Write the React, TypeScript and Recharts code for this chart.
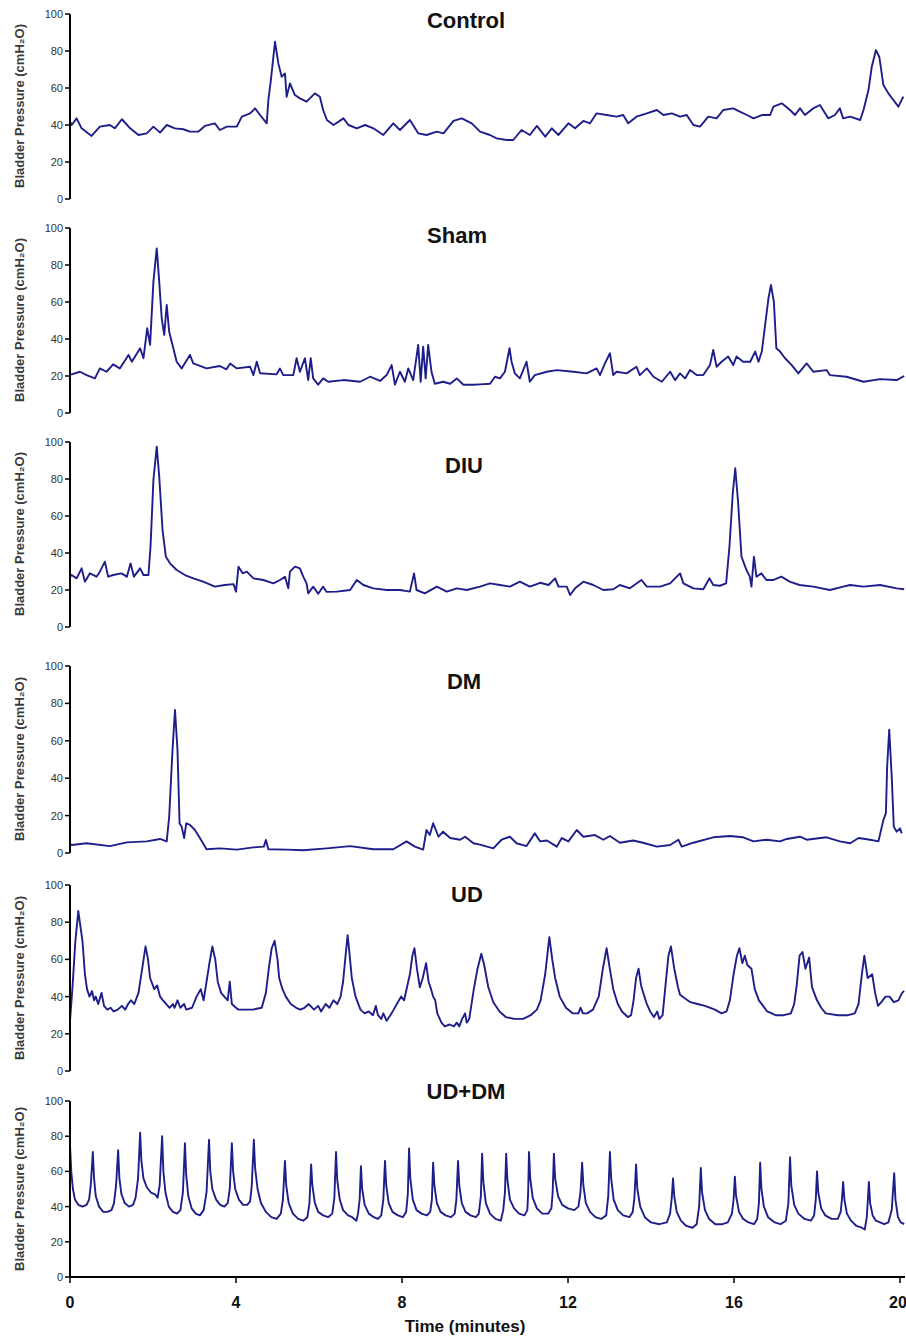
import React from 'react';
import { LineChart, Line, XAxis, YAxis } from 'recharts';

type Pt = [number, number]; // [minutes, cmH2O]

const timeTicks = [0, 4, 8, 12, 16, 20];
const pressureTicks = [0, 20, 40, 60, 80, 100];

const control: Pt[] = [
  [0, 42], [0.04, 40], [0.16, 43.6], [0.28, 38.2], [0.52, 34.1], [0.72, 39.1], [0.96, 40], [1.08, 38.2],
  [1.25, 43.1], [1.45, 38.2], [1.65, 34.6], [1.85, 35.5], [2.01, 39.1], [2.17, 35.9], [2.33, 40], [2.53, 38.2],
  [2.73, 37.7], [2.89, 36.4], [3.09, 36.4], [3.25, 39.5], [3.49, 40.9], [3.61, 37.3], [3.78, 39.1], [4.02, 39.1],
  [4.14, 44.5], [4.34, 46.3], [4.46, 49], [4.58, 45.4], [4.74, 40.9], [4.78, 53.5], [4.84, 64.3], [4.94, 85],
  [5.02, 73.3], [5.1, 66.1], [5.18, 67.9], [5.22, 55.3], [5.3, 62.5], [5.42, 56.2], [5.54, 54.4], [5.7, 52.6],
  [5.9, 57.1], [6.02, 55.3], [6.1, 48.1], [6.19, 42.7], [6.35, 40], [6.59, 43.6], [6.71, 40], [6.91, 38.2],
  [7.11, 40], [7.31, 38.2], [7.55, 34.6], [7.79, 40.9], [7.95, 37.3], [8.19, 42.7], [8.39, 35.5], [8.59, 34.6],
  [8.84, 36.4], [9, 35.5], [9.24, 42.2], [9.44, 43.6], [9.68, 40.9], [9.88, 36.4], [10.12, 34.6], [10.28, 32.8],
  [10.52, 31.9], [10.68, 31.9], [10.88, 37.3], [11.08, 34.6], [11.25, 39.5], [11.45, 33.7], [11.61, 38.2],
  [11.77, 34.6], [12.01, 40.9], [12.17, 38.2], [12.37, 42.2], [12.53, 40.9], [12.69, 46.3], [12.93, 45.4],
  [13.17, 44.5], [13.33, 45.4], [13.45, 40.9], [13.65, 44.5], [13.9, 46.3], [14.14, 48.1], [14.3, 45.4],
  [14.5, 46.3], [14.7, 44.5], [14.86, 45.4], [15.02, 40], [15.18, 39.1], [15.38, 44.5], [15.58, 43.6],
  [15.74, 48.1], [15.98, 49], [16.14, 47.2], [16.31, 45.4], [16.47, 43.6], [16.67, 45.4], [16.87, 45.4],
  [16.95, 49.9], [17.15, 51.7], [17.35, 48.1], [17.47, 45.4], [17.59, 49], [17.71, 45.4], [17.91, 49],
  [18.07, 50.8], [18.27, 43.6], [18.43, 45.4], [18.55, 49], [18.63, 43.6], [18.8, 44.5], [19.04, 42.7],
  [19.12, 48.1], [19.24, 58.9], [19.32, 71.5], [19.42, 80.5], [19.5, 76.9], [19.6, 61.6], [19.72, 57.1],
  [19.84, 53.5], [19.96, 49.9], [20.08, 55.3],
];

const sham: Pt[] = [
  [0, 21], [0.04, 20.9], [0.24, 22.3], [0.4, 20.5], [0.6, 18.7], [0.72, 24.1], [0.88, 22.3], [1.04, 26.3],
  [1.2, 24.1], [1.41, 31.4], [1.49, 27.7], [1.69, 35], [1.77, 29.6], [1.86, 45.8], [1.93, 36.8], [2.01, 71],
  [2.09, 89], [2.15, 71], [2.21, 51.2], [2.27, 42.2], [2.33, 58.4], [2.39, 43.9], [2.49, 35], [2.57, 27.7],
  [2.69, 24.1], [2.89, 31.4], [2.97, 26.8], [3.29, 24.1], [3.61, 25.4], [3.77, 23.6], [3.86, 26.8], [4.02, 24.1],
  [4.34, 25], [4.42, 20.5], [4.5, 27.7], [4.58, 21.5], [4.98, 20.9], [5.06, 24], [5.14, 20.5], [5.38, 20.5],
  [5.46, 29.6], [5.54, 22.3], [5.66, 29.6], [5.74, 17.8], [5.8, 29.6], [5.86, 18.7], [5.98, 15.3], [6.1, 18.7],
  [6.22, 16.9], [6.59, 17.8], [6.99, 16.9], [7.23, 19.6], [7.47, 17.3], [7.63, 20.5], [7.75, 25.9], [7.83, 15.3],
  [7.95, 22.3], [8.07, 16.9], [8.15, 24.1], [8.27, 17.8], [8.39, 36.8], [8.45, 16.9], [8.51, 35.9], [8.57, 18.7],
  [8.63, 36.8], [8.71, 22.3], [8.79, 15.8], [8.99, 16.9], [9.16, 15.8], [9.32, 18.7], [9.48, 15.3], [9.72, 15.3],
  [9.88, 15.5], [10.12, 15.8], [10.24, 19.6], [10.36, 18.7], [10.48, 22.3], [10.59, 35], [10.64, 27.7],
  [10.72, 21.4], [10.84, 18.7], [11, 27.7], [11.08, 16.9], [11.2, 20.5], [11.49, 22.3], [11.73, 23.2],
  [12.13, 22.3], [12.45, 21.4], [12.69, 24.1], [12.77, 20.5], [12.89, 26.8], [13.01, 32.3], [13.09, 20.5],
  [13.17, 22.3], [13.41, 21.4], [13.65, 25], [13.73, 20.5], [13.9, 24.1], [14.06, 19.6], [14.26, 16.9],
  [14.46, 22.3], [14.58, 17.8], [14.7, 21.4], [14.82, 18.7], [14.94, 23.2], [15.1, 20.5], [15.26, 20.5],
  [15.42, 25.9], [15.5, 34.1], [15.58, 25], [15.7, 27.7], [15.86, 30.5], [15.98, 25.9], [16.06, 30.5],
  [16.22, 27.7], [16.39, 27.7], [16.51, 33.2], [16.59, 27.7], [16.67, 33.2], [16.75, 47.6], [16.83, 62],
  [16.89, 69.2], [16.96, 60.2], [17.02, 35], [17.11, 33.2], [17.23, 29.6], [17.39, 25.9], [17.55, 21.4],
  [17.75, 26.8], [17.91, 22.3], [18.23, 23.2], [18.31, 20.5], [18.71, 19.6], [19.12, 16.9], [19.52, 18.3],
  [19.92, 17.8], [20.1, 20],
];

const diu: Pt[] = [
  [0, 27], [0.04, 28.1], [0.16, 26.3], [0.28, 31.7], [0.36, 24.5], [0.48, 29], [0.64, 27.2], [0.72, 29.9],
  [0.84, 35.3], [0.92, 27.2], [1.04, 28.1], [1.24, 29], [1.37, 27.2], [1.46, 34.4], [1.54, 27.2], [1.69, 31.7],
  [1.77, 28.1], [1.89, 28.1], [1.94, 43.4], [2.01, 79.5], [2.09, 97.5], [2.15, 81.3], [2.23, 52.4], [2.31, 38],
  [2.41, 34.4], [2.57, 30.8], [2.77, 28.1], [2.97, 26.3], [3.21, 24.5], [3.49, 21.8], [3.73, 22.7], [3.94, 23.2],
  [4, 19.1], [4.06, 32.6], [4.16, 29], [4.26, 29.9], [4.42, 26.3], [4.66, 25.4], [4.9, 23.6], [5.06, 25.4],
  [5.18, 27.2], [5.26, 20.9], [5.3, 29.9], [5.42, 32.6], [5.54, 31.7], [5.62, 27.2], [5.7, 23.6], [5.74, 18.2],
  [5.86, 21.8], [5.98, 18], [6.1, 21.8], [6.18, 19], [6.43, 19.1], [6.75, 20], [6.91, 25.4], [7.07, 22.7],
  [7.31, 20.9], [7.63, 20], [7.95, 20], [8.19, 19.1], [8.29, 29], [8.35, 20], [8.55, 18.2], [8.84, 21.8],
  [9.08, 19.1], [9.32, 20.9], [9.56, 20], [9.88, 21.8], [10.12, 23.6], [10.36, 22.7], [10.6, 21.8], [10.84, 24.5],
  [11.08, 21.8], [11.33, 23.9], [11.53, 22.7], [11.69, 26.3], [11.77, 21.8], [11.97, 21.8], [12.05, 17.3],
  [12.17, 20.9], [12.37, 24.5], [12.61, 22.7], [12.85, 20], [13.09, 20.4], [13.25, 22.7], [13.49, 20.9],
  [13.77, 25.4], [13.9, 21.8], [14.22, 21.8], [14.46, 23.6], [14.7, 29], [14.78, 23.6], [15.02, 20.9],
  [15.26, 20.4], [15.41, 26.3], [15.5, 22.7], [15.66, 22.3], [15.81, 23.6], [15.89, 43.4], [15.97, 72.3],
  [16.03, 85.8], [16.1, 66.9], [16.18, 38], [16.3, 30.8], [16.38, 27.2], [16.42, 21.8], [16.48, 38], [16.54, 27.2],
  [16.66, 29], [16.78, 25.4], [16.94, 25.4], [17.14, 27.2], [17.34, 24.5], [17.58, 22.7], [17.91, 21.8],
  [18.31, 20], [18.63, 21.8], [18.8, 22.7], [19.12, 21.8], [19.52, 22.7], [19.92, 20.9], [20.1, 20.4],
];

const dm: Pt[] = [
  [0, 5], [0.04, 4.3], [0.4, 5.2], [0.96, 3.7], [1.37, 5.7], [1.85, 6.2], [2.17, 7.5], [2.33, 6.2], [2.39, 19.4],
  [2.47, 55.1], [2.53, 76.5], [2.59, 55.1], [2.64, 15.9], [2.69, 14.1], [2.75, 8], [2.8, 15.9], [2.89, 15],
  [3.01, 12.3], [3.13, 8], [3.29, 2], [3.61, 2.5], [4.02, 1.8], [4.42, 3], [4.67, 3.4], [4.72, 7], [4.78, 2],
  [5.22, 1.8], [5.62, 1.5], [6.19, 2.5], [6.75, 3.7], [7.31, 2], [7.79, 2], [8.11, 6.2], [8.31, 3.4], [8.51, 1.8],
  [8.59, 12.3], [8.67, 9.6], [8.75, 15.9], [8.88, 8.7], [8.99, 11.4], [9.16, 8], [9.4, 7.1], [9.52, 8.7],
  [9.72, 5.2], [9.88, 4.5], [10.2, 2.5], [10.4, 7.1], [10.6, 8.7], [10.76, 5.2], [11, 3.7], [11.2, 10.5],
  [11.33, 6.2], [11.49, 6.7], [11.73, 3.4], [11.85, 8], [12.01, 6.2], [12.21, 12.3], [12.37, 8.7], [12.65, 9.6],
  [12.85, 7.1], [13.01, 9.1], [13.25, 5.5], [13.57, 6.7], [13.81, 5.5], [14.14, 3.4], [14.46, 4.3], [14.66, 7.1],
  [14.74, 3.4], [15.02, 5.5], [15.5, 8.4], [15.9, 9.1], [16.22, 8.4], [16.47, 6.2], [16.79, 7.1], [17.11, 6.2],
  [17.27, 7.5], [17.59, 8.7], [17.75, 7.1], [18.23, 8.4], [18.55, 6.2], [18.8, 5.2], [19, 8], [19.28, 7.1],
  [19.48, 6.2], [19.6, 17.7], [19.66, 21.3], [19.69, 46.3], [19.74, 66], [19.8, 41], [19.85, 14.1],
  [19.92, 11.4], [20, 13.2], [20.04, 10.5],
];

const ud: Pt[] = [
  [0, 27], [0.06, 45], [0.13, 70], [0.2, 86], [0.3, 70], [0.36, 52], [0.41, 44], [0.47, 40], [0.53, 43],
  [0.58, 38], [0.62, 40], [0.68, 36], [0.76, 42], [0.82, 35], [0.9, 33], [0.98, 34], [1.05, 32], [1.15, 33],
  [1.25, 35], [1.33, 33], [1.4, 36], [1.47, 38], [1.55, 36], [1.65, 42], [1.74, 55], [1.82, 67], [1.88, 60],
  [1.93, 50], [2.03, 44], [2.1, 46], [2.17, 40], [2.24, 38], [2.32, 36], [2.4, 34], [2.48, 36], [2.52, 34],
  [2.59, 38], [2.66, 34], [2.75, 36], [2.8, 33], [2.94, 34], [3.05, 40], [3.15, 44], [3.22, 38], [3.29, 48],
  [3.36, 58], [3.43, 67], [3.5, 60], [3.56, 48], [3.64, 42], [3.72, 40], [3.8, 38], [3.85, 48], [3.9, 36],
  [4, 34], [4.06, 33], [4.2, 33], [4.4, 33], [4.62, 34], [4.72, 42], [4.79, 55], [4.86, 66], [4.93, 70],
  [5, 60], [5.04, 50], [5.12, 44], [5.2, 40], [5.32, 36], [5.45, 34], [5.55, 33], [5.65, 34], [5.75, 36],
  [5.88, 33], [5.98, 35], [6.05, 32], [6.16, 36], [6.25, 34], [6.35, 38], [6.44, 36], [6.52, 40], [6.58, 48],
  [6.64, 62], [6.69, 73], [6.74, 62], [6.79, 50], [6.88, 40], [7, 33], [7.1, 31], [7.2, 32], [7.3, 30],
  [7.37, 35], [7.42, 30], [7.5, 28], [7.55, 31], [7.63, 27], [7.72, 30], [7.8, 33], [7.9, 37], [7.98, 40],
  [8.05, 38], [8.12, 45], [8.19, 52], [8.25, 62], [8.3, 66], [8.36, 55], [8.43, 45], [8.5, 50], [8.58, 58],
  [8.64, 48], [8.7, 44], [8.75, 40], [8.8, 38], [8.85, 31], [8.95, 26], [9.03, 24], [9.15, 25], [9.25, 24],
  [9.32, 26], [9.38, 24], [9.45, 28], [9.52, 31], [9.56, 26], [9.62, 28], [9.73, 44], [9.82, 55], [9.91, 63],
  [9.98, 57], [10.08, 45], [10.2, 37], [10.35, 32], [10.5, 29], [10.7, 28], [10.92, 28], [11.1, 30], [11.25, 33],
  [11.34, 38], [11.45, 52], [11.55, 72], [11.62, 60], [11.69, 50], [11.8, 40], [11.95, 34], [12.11, 31],
  [12.25, 31], [12.3, 34], [12.36, 31], [12.46, 31], [12.6, 33], [12.74, 40], [12.84, 55], [12.93, 66], [13, 56],
  [13.09, 44], [13.2, 36], [13.3, 32], [13.44, 29], [13.52, 30], [13.58, 38], [13.64, 50], [13.7, 55],
  [13.76, 46], [13.84, 40], [13.9, 36], [13.98, 32], [14.07, 29], [14.15, 32], [14.2, 28], [14.28, 30],
  [14.34, 44], [14.42, 62], [14.48, 67], [14.56, 55], [14.65, 45], [14.7, 41], [14.82, 39], [14.95, 37],
  [15.12, 36], [15.3, 35], [15.54, 33], [15.7, 31], [15.82, 32], [15.9, 38], [15.99, 52], [16.07, 62],
  [16.13, 66], [16.2, 58], [16.26, 62], [16.32, 57], [16.42, 55], [16.5, 44], [16.6, 38], [16.8, 32], [17, 30],
  [17.2, 30], [17.37, 31], [17.45, 36], [17.51, 46], [17.58, 62], [17.65, 64], [17.72, 55], [17.81, 61],
  [17.88, 45], [18, 38], [18.1, 34], [18.21, 31], [18.5, 30], [18.75, 30], [18.91, 31], [19, 36], [19.08, 52],
  [19.14, 62], [19.22, 50], [19.33, 52], [19.4, 42], [19.47, 35], [19.55, 37], [19.65, 40], [19.75, 40],
  [19.85, 37], [19.96, 38], [20.05, 42], [20.1, 43],
];

const udDm: Pt[] = [
  [0, 75], [0.03, 60], [0.07, 50], [0.12, 44], [0.2, 41], [0.3, 40], [0.4, 41], [0.46, 44], [0.5, 52], [0.55, 71],
  [0.58, 56], [0.62, 46], [0.7, 40], [0.8, 37], [0.9, 37], [1, 38], [1.06, 42], [1.11, 52], [1.16, 72],
  [1.19, 56], [1.24, 47], [1.32, 42], [1.42, 40], [1.52, 41], [1.58, 45], [1.64, 56], [1.69, 82], [1.72, 66],
  [1.77, 56], [1.85, 51], [1.95, 48], [2.05, 47], [2.11, 45], [2.16, 52], [2.22, 80], [2.25, 60], [2.3, 48],
  [2.38, 40], [2.48, 37], [2.58, 36], [2.66, 38], [2.72, 48], [2.77, 76], [2.8, 58], [2.85, 46], [2.93, 39],
  [3.03, 36], [3.13, 35], [3.22, 38], [3.29, 48], [3.35, 78], [3.38, 60], [3.43, 50], [3.52, 44], [3.62, 41],
  [3.72, 40], [3.8, 42], [3.85, 50], [3.9, 76], [3.93, 60], [3.98, 50], [4.07, 44], [4.17, 41], [4.27, 41],
  [4.34, 43], [4.38, 52], [4.43, 78], [4.46, 62], [4.52, 50], [4.6, 42], [4.72, 37], [4.85, 34], [4.98, 33],
  [5.08, 36], [5.13, 44], [5.18, 66], [5.21, 52], [5.27, 42], [5.37, 36], [5.5, 33], [5.62, 32], [5.72, 34],
  [5.77, 42], [5.81, 64], [5.84, 52], [5.9, 42], [5.98, 37], [6.1, 35], [6.22, 34], [6.32, 36], [6.37, 45],
  [6.41, 71], [6.44, 55], [6.5, 44], [6.58, 38], [6.7, 35], [6.8, 34], [6.9, 32], [6.94, 36], [6.98, 44],
  [7.01, 63], [7.04, 50], [7.1, 41], [7.2, 36], [7.32, 34], [7.42, 33], [7.5, 35], [7.55, 44], [7.59, 66],
  [7.62, 52], [7.68, 42], [7.77, 37], [7.9, 35], [8.02, 34], [8.1, 37], [8.14, 47], [8.17, 73], [8.2, 56],
  [8.26, 44], [8.35, 38], [8.47, 36], [8.6, 35], [8.68, 37], [8.72, 44], [8.75, 65], [8.78, 52], [8.84, 42],
  [8.93, 37], [9.05, 35], [9.18, 34], [9.27, 36], [9.31, 44], [9.35, 66], [9.38, 52], [9.44, 42], [9.53, 37],
  [9.65, 35], [9.78, 34], [9.85, 36], [9.9, 46], [9.93, 70], [9.96, 54], [10.02, 42], [10.12, 36], [10.25, 33],
  [10.38, 32], [10.44, 38], [10.48, 48], [10.51, 70], [10.54, 55], [10.6, 44], [10.7, 39], [10.82, 36],
  [10.95, 35], [11.02, 38], [11.04, 48], [11.06, 71], [11.09, 56], [11.15, 45], [11.25, 39], [11.38, 36],
  [11.52, 36], [11.6, 39], [11.63, 48], [11.66, 70], [11.69, 56], [11.76, 46], [11.86, 41], [12, 39],
  [12.15, 38], [12.25, 40], [12.3, 48], [12.34, 65], [12.37, 52], [12.43, 42], [12.53, 37], [12.66, 34],
  [12.8, 33], [12.92, 35], [12.97, 46], [13.01, 71], [13.04, 56], [13.1, 44], [13.2, 38], [13.33, 35],
  [13.48, 34], [13.56, 37], [13.6, 45], [13.64, 64], [13.67, 50], [13.74, 40], [13.85, 34], [14, 31], [14.2, 30],
  [14.38, 31], [14.46, 36], [14.5, 45], [14.53, 56], [14.56, 46], [14.62, 37], [14.72, 32], [14.85, 29], [15, 28],
  [15.1, 30], [15.16, 40], [15.2, 62], [15.23, 48], [15.3, 38], [15.4, 33], [15.55, 30], [15.72, 30], [15.85, 31],
  [15.95, 36], [15.99, 44], [16.02, 57], [16.05, 46], [16.12, 37], [16.22, 33], [16.35, 31], [16.48, 30],
  [16.56, 33], [16.6, 42], [16.63, 65], [16.66, 50], [16.72, 40], [16.82, 34], [16.98, 31], [17.12, 30],
  [17.25, 32], [17.31, 42], [17.35, 68], [17.38, 52], [17.45, 41], [17.55, 36], [17.7, 33], [17.85, 32],
  [17.93, 35], [17.97, 44], [18, 60], [18.03, 48], [18.1, 39], [18.2, 35], [18.35, 33], [18.5, 33], [18.57, 37],
  [18.6, 44], [18.63, 54], [18.66, 44], [18.72, 36], [18.82, 32], [18.95, 29], [19.08, 28], [19.15, 27],
  [19.2, 34], [19.25, 54], [19.28, 42], [19.34, 35], [19.42, 32], [19.52, 31], [19.62, 30], [19.72, 31],
  [19.8, 38], [19.86, 59], [19.89, 44], [19.95, 34], [20.02, 31], [20.1, 30],
];

const titles = ['Control', 'Sham', 'DIU', 'DM', 'UD', 'UD+DM'];
const series = [control, sham, diu, dm, ud, udDm];

// pixel layout of each panel: plot top (100) / bottom (0), title centre
const layout = [
  { top: 14, bottom: 199, tx: 466, ty: 21 },
  { top: 228, bottom: 413, tx: 457, ty: 236 },
  { top: 442, bottom: 627, tx: 464, ty: 466 },
  { top: 666, bottom: 853, tx: 464, ty: 682 },
  { top: 885, bottom: 1071, tx: 467, ty: 895 },
  { top: 1101, bottom: 1277, tx: 466, ty: 1092 },
];

const FONT = '"Liberation Sans", Arial, Helvetica, sans-serif';
const LINE = '#1e1e8a';

function Panel({ idx }: { idx: number }) {
  const l = layout[idx];
  const last = idx === layout.length - 1;
  const padTop = 10;
  const plotH = l.bottom - l.top;
  const axisH = last ? 63 : 0;
  const padBottom = last ? 0 : 10;
  const h = padTop + plotH + axisH + padBottom;
  const rows = series[idx].map(([t, v]) => ({ t, v }));

  return (
    <>
      <div style={{ position: 'absolute', left: 0, top: l.top - padTop, width: 906, height: h }}>
        <LineChart width={906} height={h} data={rows} margin={{ top: padTop, right: 1, bottom: padBottom, left: 10 }}>
          <XAxis
            dataKey="t"
            type="number"
            domain={[0, 20.12]}
            ticks={timeTicks}
            hide={!last}
            height={axisH}
            axisLine={{ stroke: '#000', strokeWidth: 2 }}
            tickLine={{ stroke: '#000', strokeWidth: 1.5 }}
            tickSize={6}
            tickMargin={14}
            tick={{ fontSize: 16, fontWeight: 'bold', fill: '#111', fontFamily: FONT }}
          />
          <YAxis
            type="number"
            domain={[0, 100]}
            ticks={pressureTicks}
            width={60}
            axisLine={{ stroke: '#000', strokeWidth: 2 }}
            tickLine={{ stroke: '#000', strokeWidth: 1.5 }}
            tickSize={5}
            tickMargin={2}
            tick={{ fontSize: 11, fill: '#333', fontFamily: FONT }}
          />
          <Line
            type="linear"
            dataKey="v"
            stroke={LINE}
            strokeWidth={1.9}
            strokeLinejoin="round"
            dot={false}
            isAnimationActive={false}
          />
        </LineChart>
      </div>
      <div
        style={{
          position: 'absolute',
          left: l.tx - 100,
          top: l.ty - 13,
          width: 200,
          height: 26,
          lineHeight: '26px',
          textAlign: 'center',
          fontFamily: FONT,
          fontWeight: 'bold',
          fontSize: 22,
          color: '#111',
        }}
      >
        {titles[idx]}
      </div>
      <div
        style={{
          position: 'absolute',
          left: 12,
          top: l.top,
          height: plotH,
          width: 15,
          lineHeight: '15px',
          writingMode: 'vertical-rl',
          transform: 'rotate(180deg)',
          textAlign: 'center',
          fontFamily: FONT,
          fontWeight: 'bold',
          fontSize: 13,
          color: '#3a3a3a',
          whiteSpace: 'nowrap',
        }}
      >
        Bladder Pressure (cmH₂O)
      </div>
    </>
  );
}

export default function App() {
  return (
    <div style={{ position: 'absolute', left: 0, top: 0, width: 906, height: 1340, background: '#fff', overflow: 'hidden' }}>
      {titles.map((_, i) => (
        <Panel key={i} idx={i} />
      ))}
      <div
        style={{
          position: 'absolute',
          left: 365,
          top: 1316,
          width: 200,
          height: 22,
          lineHeight: '22px',
          textAlign: 'center',
          fontFamily: FONT,
          fontWeight: 'bold',
          fontSize: 17,
          color: '#111',
        }}
      >
        Time (minutes)
      </div>
    </div>
  );
}
